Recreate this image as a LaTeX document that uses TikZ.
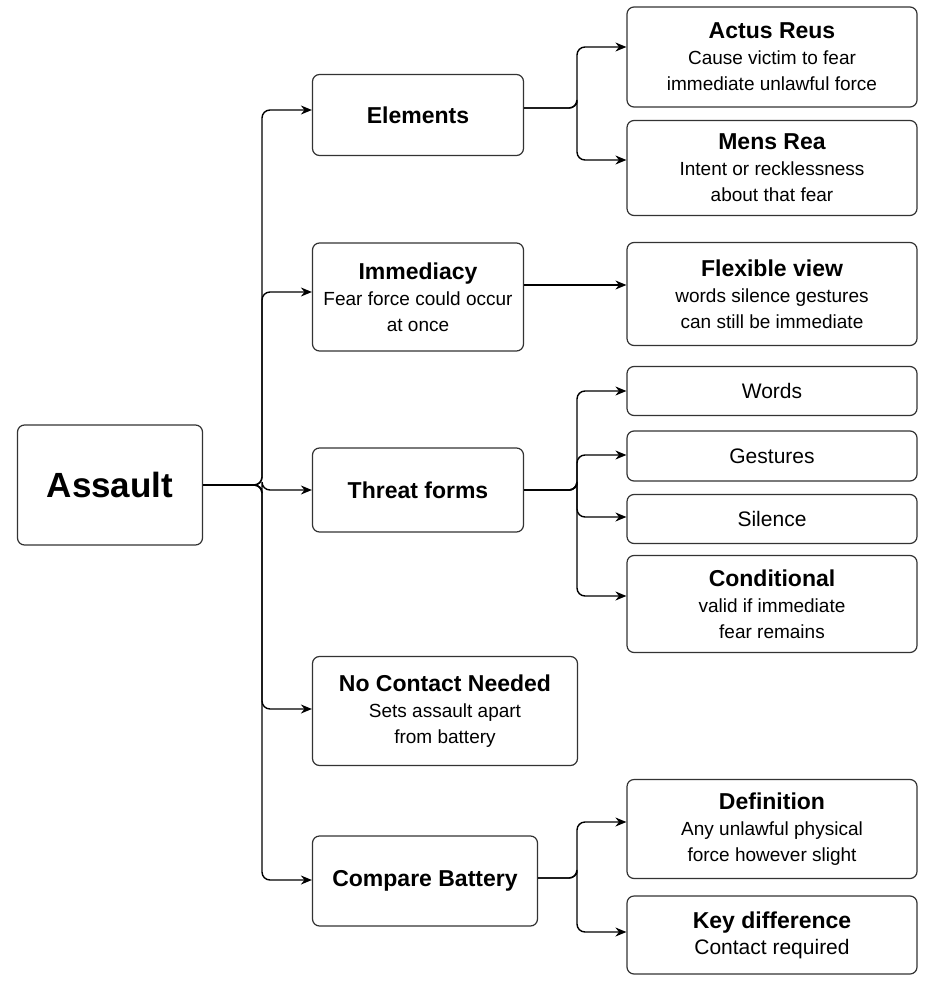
\documentclass[tikz,border=0pt]{standalone}
\usepackage{fontspec}
\setmainfont{Liberation Sans}
\usetikzlibrary{arrows.meta}
\tikzset{
  box/.style={draw=black!80,line width=1.2pt,rounded corners=7pt,align=center,
    inner sep=0pt,font=\fontsize{19}{26}\selectfont},
  plain/.style={box,font=\fontsize{21}{26}\selectfont},
  link/.style={line width=1.4pt,rounded corners=8pt,-{Stealth[length=11pt,width=9pt]}},
}
\newcommand{\hd}[1]{{\fontsize{23}{28}\selectfont\bfseries #1}}
\begin{document}
\begin{tikzpicture}[x=1pt,y=-1pt]
  \useasboundingbox (0,0) rectangle (935,992);
  % left column
  \node[box,minimum width=185,minimum height=120,font=\fontsize{35}{40}\selectfont\bfseries] (assault) at (110,485) {Assault};
  \node[box,minimum width=211,minimum height=81] (elements) at (418,115) {\hd{Elements}};
  \node[box,minimum width=211,minimum height=108] (immediacy) at (418,297) {\hd{Immediacy}\\Fear force could occur\\at once};
  \node[box,minimum width=211,minimum height=84] (threat) at (418,490) {\hd{Threat forms}};
  \node[box,minimum width=265,minimum height=109] (contact) at (445,711) {\hd{No Contact Needed}\\Sets assault apart\\from battery};
  \node[box,minimum width=225,minimum height=90] (battery) at (425,881) {\hd{Compare Battery}};
  % right column
  \node[box,minimum width=290,minimum height=100] (actus) at (772,57) {\hd{Actus Reus}\\Cause victim to fear\\immediate unlawful force};
  \node[box,minimum width=290,minimum height=95] (mens) at (772,168) {\hd{Mens Rea}\\Intent or recklessness\\about that fear};
  \node[box,minimum width=290,minimum height=103] (flexible) at (772,294) {\hd{Flexible view}\\words silence gestures\\can still be immediate};
  \node[plain,minimum width=290,minimum height=49] (words) at (772,391) {Words};
  \node[plain,minimum width=290,minimum height=50] (gestures) at (772,456) {Gestures};
  \node[plain,minimum width=290,minimum height=49] (silence) at (772,519) {Silence};
  \node[box,minimum width=290,minimum height=97] (conditional) at (772,604) {\hd{Conditional}\\valid if immediate\\fear remains};
  \node[box,minimum width=290,minimum height=99] (definition) at (772,829) {\hd{Definition}\\Any unlawful physical\\force however slight};
  \node[box,minimum width=290,minimum height=78] (keydiff) at (772,935) {\hd{Key difference}\\{\fontsize{21}{26}\selectfont Contact required}};
  % connectors
  \coordinate (trunk) at (262,485);
  \foreach \n/\y in {elements/110,immediacy/292,threat/490,contact/709,battery/880}
    \draw[link] (assault.east) -- (trunk) |- (\n.west |- 0,\y);
  \foreach \n/\y in {actus/47,mens/160}
    \draw[link] (elements.east |- 0,108) -| (577,108) |- (\n.west |- 0,\y);
  \draw[link] (immediacy.east |- 0,285) -- (flexible.west |- 0,285);
  \foreach \n/\y in {words/391,gestures/455,silence/517,conditional/596}
    \draw[link] (threat.east) -| (577,490) |- (\n.west |- 0,\y);
  \foreach \n/\y in {definition/822,keydiff/932}
    \draw[link] (battery.east |- 0,878) -| (577,878) |- (\n.west |- 0,\y);
\end{tikzpicture}
\end{document}
